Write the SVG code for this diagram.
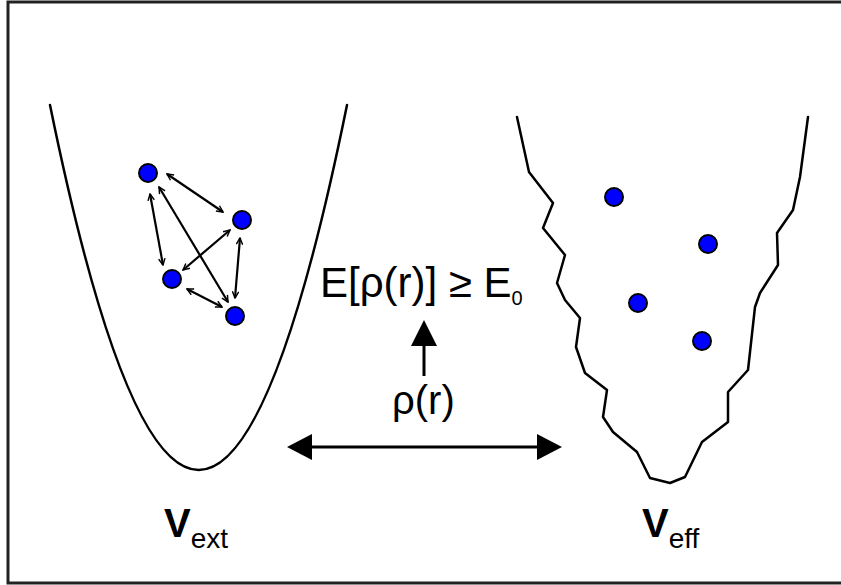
<svg xmlns="http://www.w3.org/2000/svg" width="841" height="585" viewBox="0 0 841 585">
<defs>
<style>
.curve{fill:none;stroke:#000;stroke-width:2.5;stroke-linejoin:round;stroke-linecap:round}
.pt{fill:#0000ff;stroke:#000;stroke-width:2}
.link{fill:none;stroke:#000;stroke-width:2.2;marker-start:url(#open);marker-end:url(#open)}
.big{fill:none;stroke:#000;stroke-width:3}
.txt{font-family:"Liberation Sans",Arial,sans-serif;fill:#000}
</style>
<marker id="open" viewBox="0 0 10 10" refX="9" refY="5" markerWidth="8" markerHeight="8" markerUnits="userSpaceOnUse" orient="auto-start-reverse">
<path d="M1,1 L9,5 L1,9" fill="none" stroke="#000" stroke-width="1.8"/>
</marker>
</defs>
<rect x="8" y="2" width="840" height="581" fill="#fff" stroke="#222" stroke-width="3"/>

<g id="vext-well">
<path class="curve" d="M50,105 Q199,835 347,105"/>
</g>
<g id="veff-well">
<path class="curve" d="M517,117 L529,172 L553,203 L543,228 L565,255 L557,283 L565,300 L580,318 L576,347 L585,373 L607,390 L603,417 L613,432 L637,452 L650,478 L670,483 L685,477 L702,442 L728,422 L728,392 L748,370 L755,307 L760,293 L778,265 L777,233 L793,210 L800,177 L808,117"/>
</g>

<g id="connectors">
<line class="link" x1="167" y1="174" x2="223" y2="212"/>
<line class="link" x1="150" y1="194" x2="163" y2="265"/>
<line class="link" x1="159" y1="187" x2="228" y2="302"/>
<line class="link" x1="230" y1="230" x2="183" y2="270"/>
<line class="link" x1="240" y1="238" x2="235" y2="298"/>
<line class="link" x1="187" y1="289" x2="222" y2="307"/>
<line class="big" x1="424" y1="376" x2="424" y2="344"/>
<path d="M411,346 L437,346 L424,320 Z" fill="#000"/>
<line class="big" x1="305" y1="447" x2="545" y2="447"/>
<path d="M287,447 L312,434 L312,460 Z" fill="#000"/>
<path d="M562,447 L537,434 L537,460 Z" fill="#000"/>
</g>

<g id="ext-particles">
<circle class="pt" cx="148" cy="173" r="9"/>
<circle class="pt" cx="242" cy="220" r="9"/>
<circle class="pt" cx="172" cy="279" r="9"/>
<circle class="pt" cx="235" cy="316" r="9"/>
</g>
<g id="eff-particles">
<circle class="pt" cx="614" cy="197" r="9"/>
<circle class="pt" cx="708" cy="244" r="9"/>
<circle class="pt" cx="638" cy="303" r="9"/>
<circle class="pt" cx="702" cy="341" r="9"/>
</g>

<g id="energy-label">
<text class="txt" x="320" y="297" font-size="42">E[ρ(r)] ≥ E<tspan font-size="20" dy="8">0</tspan></text>
</g>
<g id="density-label">
<text class="txt" x="392" y="414" font-size="40">ρ(r)</text>
</g>
<g id="vext-label">
<text class="txt" x="164" y="537" font-size="40" font-weight="bold">V<tspan font-size="28" font-weight="normal" dy="11">ext</tspan></text>
</g>
<g id="veff-label">
<text class="txt" x="642" y="537" font-size="40" font-weight="bold">V<tspan font-size="28" font-weight="normal" dy="11">eff</tspan></text>
</g>
</svg>
